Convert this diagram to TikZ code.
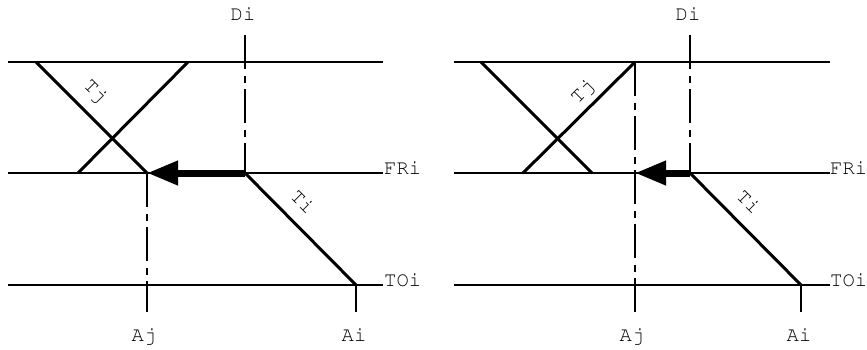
\documentclass[tikz,border=0pt]{standalone}
\usepackage[T1]{fontenc}
\usepackage{courier}
\usetikzlibrary{arrows.meta}
\begin{document}
\begin{tikzpicture}[x=1pt,y=-1pt,
  thinline/.style={line width=1.3pt},
  thickline/.style={line width=3pt},
  dashdot/.style={line width=1.3pt, dash pattern=on 34pt off 7pt on 7pt off 6pt},
  bigarrow/.style={line width=7pt, -{Triangle[length=31pt,width=23pt]}},
  lbl/.style={inner sep=0pt, font=\fontsize{20.5}{24}\selectfont\ttfamily},
]
\useasboundingbox (0,0) rectangle (867,349);
% ---------- left panel ----------
\coordinate (La1) at (8,62);   \coordinate (Lb1) at (383,62);
\coordinate (La2) at (8,173);  \coordinate (Lb2) at (383,173);
\coordinate (La3) at (8,285);  \coordinate (Lb3) at (383,285);
\coordinate (LDtop) at (245,35); \coordinate (LDfr) at (245,173);
\coordinate (LAjfr) at (147,173); \coordinate (LAjbot) at (147,312);
\coordinate (LAitoi) at (356,285); \coordinate (LAibot) at (356,312);
\coordinate (LTjtop) at (36,62);
\coordinate (LXtop) at (188,62); \coordinate (LXbot) at (78,173);
\draw[thinline] (La1) -- (Lb1);
\draw[thinline] (La2) -- (Lb2);
\draw[thinline] (La3) -- (Lb3);
\draw[dashdot] (LDtop) -- (LDfr);
\draw[dashdot] (LAjfr) -- (LAjbot);
\draw[thinline] (LAitoi) -- (LAibot);
\draw[thickline] (LTjtop) -- (LAjfr);
\draw[thickline] (LXtop) -- (LXbot);
\draw[thickline] (LDfr) -- (LAitoi);
\draw[bigarrow] (LDfr) -- (LAjfr);
\node[lbl, anchor=base] (LDi) at (243,20) {Di};
\node[lbl, anchor=base] (LAj) at (144,341) {Aj};
\node[lbl, anchor=base] (LAi) at (354,341) {Ai};
\node[lbl, anchor=base west] (LFRi) at (384,174) {FRi};
\node[lbl, anchor=base west] (LTOi) at (384,286) {TOi};
\node[lbl, rotate=-45] (LTj) at (95,92) {Tj};
\node[lbl, rotate=-45] (LTi) at (303,202) {Ti};
% ---------- right panel ----------
\coordinate (Ra1) at (454,62);   \coordinate (Rb1) at (830,62);
\coordinate (Ra2) at (454,173);  \coordinate (Rb2) at (830,173);
\coordinate (Ra3) at (454,285);  \coordinate (Rb3) at (830,285);
\coordinate (RDtop) at (690,35); \coordinate (RDfr) at (690,173);
\coordinate (RAjtop) at (635,62); \coordinate (RAjfr) at (635,173); \coordinate (RAjbot) at (635,312);
\coordinate (RAitoi) at (801,285); \coordinate (RAibot) at (801,312);
\coordinate (RXtop) at (481,62); \coordinate (RXbot) at (592,173);
\coordinate (RTjbot) at (523,173);
\draw[thinline] (Ra1) -- (Rb1);
\draw[thinline] (Ra2) -- (Rb2);
\draw[thinline] (Ra3) -- (Rb3);
\draw[dashdot] (RDtop) -- (RDfr);
\draw[dashdot] (RAjtop) -- (RAjbot);
\draw[thinline] (RAitoi) -- (RAibot);
\draw[thickline] (RXtop) -- (RXbot);
\draw[thickline] (RAjtop) -- (RTjbot);
\draw[thickline] (RDfr) -- (RAitoi);
\draw[bigarrow] (RDfr) -- (RAjfr);
\node[lbl, anchor=base] (RDi) at (688,20) {Di};
\node[lbl, anchor=base] (RAj) at (632,341) {Aj};
\node[lbl, anchor=base] (RAi) at (799,341) {Ai};
\node[lbl, anchor=base west] (RFRi) at (830,174) {FRi};
\node[lbl, anchor=base west] (RTOi) at (830,286) {TOi};
\node[lbl, rotate=45] (RTj) at (583,92) {Tj};
\node[lbl, rotate=-45] (RTi) at (749,202) {Ti};
\end{tikzpicture}
\end{document}
